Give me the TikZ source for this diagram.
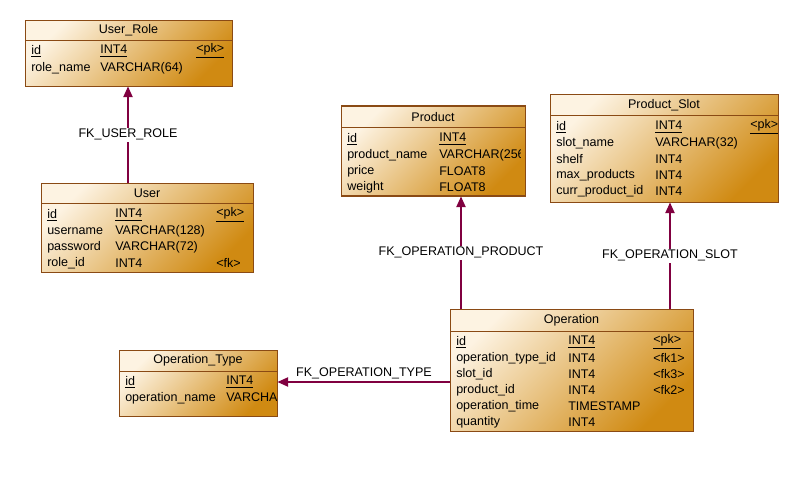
\documentclass[tikz,border=0pt]{standalone}
\usepackage{fontspec}
\setmainfont{Liberation Sans}
\usetikzlibrary{arrows.meta}
\definecolor{bord}{HTML}{8A4A14}
\definecolor{fk}{HTML}{800040}
\definecolor{lite}{HTML}{FDF3E2}
\definecolor{dark}{HTML}{D08A12}
\newcommand{\tx}[3]{\node[txt] at (#1,#2+1) {#3};}
\newcommand{\ul}[1]{\underline{#1}}
\begin{document}
\begin{tikzpicture}[x=0.75pt,y=-0.75pt,
  tbl/.style={draw=bord,line width=0.75pt,rectangle,anchor=north west,inner sep=0,
    left color=dark,right color=lite,shading angle=-135},
  txt/.style={anchor=west,inner sep=0,font=\fontsize{9.4}{10}\selectfont},
  ttl/.style={inner sep=0,font=\fontsize{9.4}{10}\selectfont},
  lbl/.style={fill=white,inner sep=1pt,font=\fontsize{9.4}{10}\selectfont},
  fkl/.style={draw=fk,line width=0.9pt,-{Triangle[length=8pt,width=7pt]}}]
\useasboundingbox[fill=white] (0,0) rectangle (794,485);
% User_Role
\node[tbl,minimum width=207*0.75pt,minimum height=66*0.75pt] (ur) at (25,20) {};
\draw[bord,line width=0.75pt] (25,41) -- (232,41);
\node[ttl] (urt) at (128.5,30.5) {User\_Role};
\tx{31}{50}{\ul{id}}\tx{100}{50}{\ul{INT4}}\tx{196}{50}{\ul{<pk>}}
\tx{31}{67}{role\_name}\tx{100}{67}{VARCHAR(64)}
% User
\node[tbl,minimum width=212*0.75pt,minimum height=89*0.75pt] (us) at (41,183) {};
\draw[bord,line width=0.75pt] (41,204) -- (253,204);
\node[ttl] at (147,193.5) {User};
\tx{47}{214}{\ul{id}}\tx{115}{214}{\ul{INT4}}\tx{216}{214}{\ul{<pk>}}
\tx{47}{230}{username}\tx{115}{230}{VARCHAR(128)}
\tx{47}{246}{password}\tx{115}{246}{VARCHAR(72)}
\tx{47}{262}{role\_id}\tx{115}{262}{INT4}\tx{216}{262}{<fk>}
% Product
\node[tbl,minimum width=184*0.75pt,minimum height=90*0.75pt] (pr) at (341,106) {};
\draw[bord,line width=0.75pt] (341,128) -- (525,128);
\node[ttl] at (433,117) {Product};
\begin{scope}
\clip (341,106) rectangle (520,196);
\tx{347}{138}{\ul{id}}\tx{439}{138}{\ul{INT4}}
\tx{347}{154}{product\_name}\tx{439}{154}{VARCHAR(256)}
\tx{347}{170}{price}\tx{439}{170}{FLOAT8}
\tx{347}{186}{weight}\tx{439}{186}{FLOAT8}
\end{scope}
\draw[bord,line width=0.75pt] (341,106) rectangle (525,196);
% Product_Slot
\node[tbl,minimum width=228*0.75pt,minimum height=108*0.75pt] (ps) at (550,94) {};
\draw[bord,line width=0.75pt] (550,116) -- (778,116);
\node[ttl] at (664,105) {Product\_Slot};
\tx{556}{126}{\ul{id}}\tx{655}{126}{\ul{INT4}}\tx{750}{126}{\ul{<pk>}}
\tx{556}{142}{slot\_name}\tx{655}{142}{VARCHAR(32)}
\tx{556}{158}{shelf}\tx{655}{158}{INT4}
\tx{556}{174}{max\_products}\tx{655}{174}{INT4}
\tx{556}{190}{curr\_product\_id}\tx{655}{190}{INT4}
% Operation
\node[tbl,minimum width=243*0.75pt,minimum height=122*0.75pt] (op) at (450,309) {};
\draw[bord,line width=0.75pt] (450,331) -- (693,331);
\node[ttl] at (571.5,320) {Operation};
\tx{456}{341}{\ul{id}}\tx{568}{341}{\ul{INT4}}\tx{653}{341}{\ul{<pk>}}
\tx{456}{357}{operation\_type\_id}\tx{568}{357}{INT4}\tx{653}{357}{<fk1>}
\tx{456}{373}{slot\_id}\tx{568}{373}{INT4}\tx{653}{373}{<fk3>}
\tx{456}{389}{product\_id}\tx{568}{389}{INT4}\tx{653}{389}{<fk2>}
\tx{456}{405}{operation\_time}\tx{568}{405}{TIMESTAMP}
\tx{456}{421}{quantity}\tx{568}{421}{INT4}
% Operation_Type
\node[tbl,minimum width=158*0.75pt,minimum height=66*0.75pt] (ot) at (119,350) {};
\draw[bord,line width=0.75pt] (119,371) -- (277,371);
\node[ttl] at (198,360.5) {Operation\_Type};
\begin{scope}
\clip (119,350) rectangle (276,416);
\tx{125}{381}{\ul{id}}\tx{226}{381}{\ul{INT4}}
\tx{125}{397}{operation\_name}\tx{226}{397}{VARCHAR(64)}
\end{scope}
\draw[bord,line width=0.75pt] (119,350) rectangle (277,416);
% connectors
\coordinate (a1) at (128,183); \coordinate (a2) at (128,86.5);
\draw[fkl] (a1) -- node[lbl,pos=0.5] {FK\_USER\_ROLE} (a2);
\coordinate (b1) at (461,309); \coordinate (b2) at (461,196.5);
\draw[fkl] (b1) -- node[lbl,pos=0.5] {FK\_OPERATION\_PRODUCT} (b2);
\coordinate (c1) at (670,309); \coordinate (c2) at (670,202.5);
\draw[fkl] (c1) -- node[lbl,pos=0.5] {FK\_OPERATION\_SLOT} (c2);
\coordinate (d1) at (450,382); \coordinate (d2) at (277.5,382);
\draw[fkl] (d1) -- (d2);
\node[font=\fontsize{9.4}{10}\selectfont,inner sep=0] (dl) at (364,373) {FK\_OPERATION\_TYPE};
\end{tikzpicture}
\end{document}
